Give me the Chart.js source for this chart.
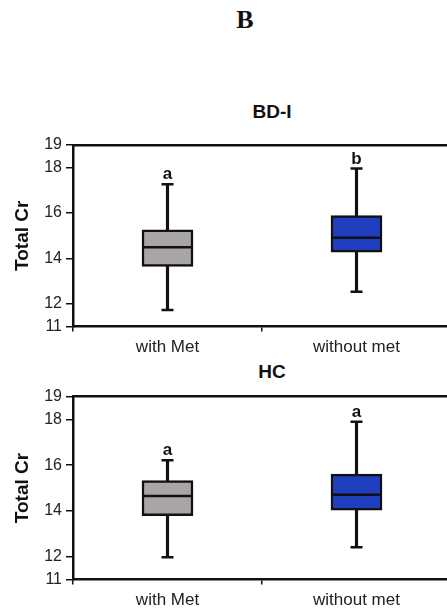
<!DOCTYPE html>
<html>
<head>
<meta charset="utf-8">
<script src="https://cdn.jsdelivr.net/npm/chart.js@4.4.1/dist/chart.umd.min.js"></script>
<style>
  html, body { margin: 0; padding: 0; width: 447px; height: 610px; overflow: hidden; background: #fff; }
  .txt { position: absolute; text-align: center; color: #111; white-space: nowrap; }
  .panel-title { font: bold 19px "Liberation Sans", Arial, sans-serif; line-height: 20px; width: 100px; left: 222px; }
  canvas { position: absolute; left: 0; }
</style>
</head>
<body>
<div class="txt" style="font: bold 26px 'Liberation Serif', 'Times New Roman', serif; line-height: 26px; width: 100px; left: 195px; top: 7px;">B</div>
<div class="txt panel-title" style="top: 102px;">BD-I</div>
<div class="txt panel-title" style="top: 362px;">HC</div>
<canvas id="bd" width="451" height="240" style="top:120px;width:451px;height:240px"></canvas>
<canvas id="hc" width="451" height="250" style="top:360px;width:451px;height:250px"></canvas>
<script>
// box-plot panels: BD-I (top) and HC (bottom)

const categories = ["with Met", "without met"];
const yTicks = [11, 12, 14, 16, 18, 19];
const boxColors = ["#a9a4a6", "#1f3fbf"];

// BD-I
const bdMin = [11.73, 12.53];
const bdQ1 = [13.65, 14.28];
const bdMed = [14.49, 14.91];
const bdQ3 = [15.26, 15.89];
const bdMax = [17.27, 17.96];
const bdLetters = ["a", "b"];

// HC
const hcMin = [11.97, 12.41];
const hcQ1 = [13.79, 14.03];
const hcMed = [14.65, 14.71];
const hcQ3 = [15.32, 15.61];
const hcMax = [16.21, 17.90];
const hcLetters = ["a", "a"];

const FONT = "'Liberation Sans', Arial, sans-serif";
const INK = "#111";

// significance letters just above each upper whisker
const lettersPlugin = {
  id: "letters",
  afterDatasetsDraw(chart, args, opts) {
    const { ctx, scales } = chart;
    ctx.save();
    ctx.font = "bold 17px " + FONT;
    ctx.fillStyle = INK;
    ctx.textAlign = "center";
    ctx.textBaseline = "alphabetic";
    opts.letters.forEach((l, i) => {
      const x = scales.x.getPixelForValue(i);
      const y = scales.y.getPixelForValue(opts.tops[i]) - 5;
      ctx.fillText(l, x, y);
    });
    ctx.restore();
  },
};

function makePanel(id, s, padTop, xHeight) {
  const pair = (a, b) => a.map((v, i) => [v, b[i]]);
  return new Chart(document.getElementById(id), {
    type: "bar",
    data: {
      labels: categories,
      datasets: [
        {
          type: "line", label: "median", data: s.med, showLine: false, order: 0,
          pointStyle: "line", pointRadius: 24, borderColor: INK, borderWidth: 2.5,
        },
        {
          type: "line", label: "upper cap", data: s.max, showLine: false, order: 0,
          pointStyle: "line", pointRadius: 6, borderColor: INK, borderWidth: 2.5,
        },
        {
          type: "line", label: "lower cap", data: s.min, showLine: false, order: 0,
          pointStyle: "line", pointRadius: 6, borderColor: INK, borderWidth: 2.5,
        },
        {
          label: "box", data: pair(s.q1, s.q3), order: 1, grouped: false,
          backgroundColor: boxColors, borderColor: INK, borderWidth: 2.5,
          borderSkipped: false, barThickness: 51,
        },
        {
          label: "whisker", data: pair(s.min, s.max), order: 2, grouped: false,
          backgroundColor: INK, borderWidth: 0, barThickness: 2.5,
        },
      ],
    },
    plugins: [lettersPlugin],
    options: {
      responsive: false,
      animation: false,
      layout: { autoPadding: false, padding: { top: padTop, left: 0, right: 0, bottom: 0 } },
      plugins: {
        legend: { display: false },
        tooltip: { enabled: false },
        letters: { letters: s.letters, tops: s.max },
      },
      scales: {
        x: {
          type: "category",
          offset: true,
          grid: { offset: true, drawOnChartArea: false, drawTicks: true, tickLength: 5, color: INK, lineWidth: 1.5 },
          border: { display: true, color: INK, width: 2.5 },
          ticks: { color: "#222", font: { family: FONT, size: 17 }, padding: 6 },
          afterFit: (sc) => { sc.height = xHeight; },
        },
        x2: {
          type: "category",
          position: "top",
          labels: categories,
          offset: true,
          grid: { display: false },
          ticks: { display: false },
          border: { display: true, color: INK, width: 2.5 },
          afterFit: (sc) => { sc.height = 0; },
        },
        y: {
          min: 11,
          max: 19,
          afterBuildTicks: (sc) => { sc.ticks = yTicks.map((v) => ({ value: v })); },
          grid: { drawOnChartArea: false, drawTicks: true, tickLength: 7, color: INK, lineWidth: 1.5 },
          border: { display: true, color: INK, width: 2.5 },
          ticks: { color: "#222", font: { family: FONT, size: 16 }, padding: 4 },
          title: {
            display: true, text: "Total Cr", color: INK,
            font: { family: FONT, size: 19, weight: "bold" },
            padding: { top: 11, bottom: 0 },
          },
          afterFit: (sc) => { sc.width = 73; },
        },
      },
    },
  });
}

makePanel("bd", { min: bdMin, q1: bdQ1, med: bdMed, q3: bdQ3, max: bdMax, letters: bdLetters }, 25, 33.5);
makePanel("hc", { min: hcMin, q1: hcQ1, med: hcMed, q3: hcQ3, max: hcMax, letters: hcLetters }, 36.5, 30.5);
</script>
</body>
</html>
